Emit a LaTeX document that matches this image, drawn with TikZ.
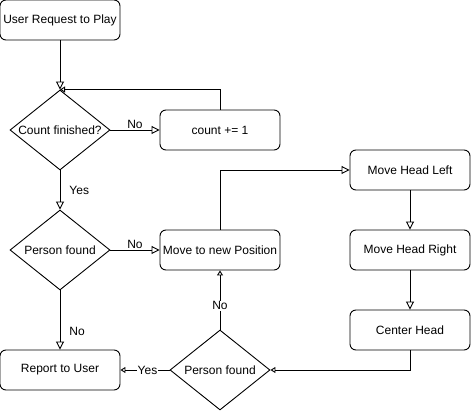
\documentclass[tikz,border=0pt]{standalone}
\usepackage{fontspec}
\setmainfont{Liberation Sans}
\usetikzlibrary{arrows.meta,shapes.geometric}
\begin{document}
\begin{tikzpicture}[x=1pt,y=-1pt,
  font=\fontsize{12}{14}\selectfont,
  line width=0.9pt,
  proc/.style={draw,rounded corners=6pt,minimum width=120pt,minimum height=40pt,inner sep=0pt},
  dec/.style={draw,diamond,aspect=1.25,minimum width=100pt,minimum height=80pt,inner sep=0pt},
  big/.style={-{Triangle[open,length=8pt,width=8pt]}},
  small/.style={-{Triangle[open,length=5pt,width=6pt]}},
  lbl/.style={inner sep=1pt}]
\useasboundingbox (0,0) rectangle (471,411);
\node[proc] (req) at (60,20) {User Request to Play};
\node[dec] (cnt) at (60,130) {Count finished?};
\node[proc] (inc) at (220,130) {count += 1};
\node[dec] (pf1) at (60,250) {Person found};
\node[proc] (mov) at (220,250) {Move to new Position};
\node[proc] (rep) at (60,370) {Report to User};
\node[dec] (pf2) at (220,370) {Person found};
\node[proc] (hl) at (410,170) {Move Head Left};
\node[proc] (hr) at (410,250) {Move Head Right};
\node[proc] (ch) at (410,330) {Center Head};
\draw[big] (req.south) -- (cnt.north);
\draw[big] (cnt.east) -- node[lbl,above,pos=0.5]{No} (inc.west);
\draw[small] (inc.north) |- (cnt.north);
\draw[big] (cnt.south) -- node[lbl,right,pos=0.5,xshift=8pt]{Yes} (pf1.north);
\draw[big] (pf1.east) -- node[lbl,above,pos=0.5]{No} (mov.west);
\draw[big] (pf1.south) -- node[lbl,right,pos=0.7,xshift=8pt]{No} (rep.north);
\draw[big] (mov.north) |- (hl.west);
\draw[big] (hl.south) -- (hr.north);
\draw[big] (hr.south) -- (ch.north);
\draw[small] (ch.south) |- (pf2.east);
\draw[small] (pf2.west) -- node[lbl,fill=white,pos=0.45]{Yes} (rep.east);
\draw[small] (pf2.north) -- node[lbl,fill=white,pos=0.4]{No} (mov.south);
\end{tikzpicture}
\end{document}
